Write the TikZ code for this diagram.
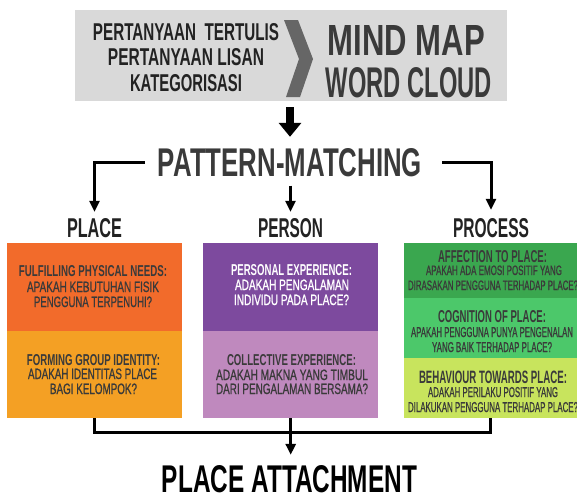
\documentclass[tikz,border=0pt]{standalone}
\usepackage{fontspec}
\setmainfont{Liberation Sans}
\newfontfamily\medfont{Liberation Sans}[FakeBold=1.2]
\usepackage{graphicx}
\usetikzlibrary{arrows.meta}
\definecolor{hdrbg}{HTML}{D9D9D9}
\definecolor{chev}{HTML}{666666}
\definecolor{ink}{HTML}{222222}
\definecolor{inkg}{HTML}{3A3A3A}
\definecolor{cA}{HTML}{F26B2B}
\definecolor{cB}{HTML}{F4A024}
\definecolor{cC}{HTML}{7D4A9E}
\definecolor{cD}{HTML}{BF89BE}
\definecolor{cE}{HTML}{3AA74F}
\definecolor{cF}{HTML}{4CC86A}
\definecolor{cG}{HTML}{C8E45D}
\newcommand{\fb}[3]{\resizebox{#1pt}{#2pt}{\bfseries #3}}
\newcommand{\fr}[3]{\resizebox{#1pt}{#2pt}{\medfont #3}}
\begin{document}
\begin{tikzpicture}[x=1pt,y=-1pt,
  txt/.style={inner sep=0pt,anchor=base},
  conn/.style={line width=3pt,draw=black},
  arr/.style={conn,-{Triangle[width=10pt,length=11pt]}},
  big/.style={line width=8pt,draw=black,-{Triangle[width=22pt,length=14pt]}},
  box/.style={draw=none,inner sep=0pt,anchor=north west}]
\useasboundingbox (0,0) rectangle (577,498);
\fill[white] (0,0) rectangle (577,498);

% header
\node[box,fill=hdrbg,minimum width=432pt,minimum height=91pt] (header) at (75,10) {};
\fill[chev] (284,20) -- (298,20) -- (313,59) -- (300,97) -- (286,97) -- (299,59) -- cycle;
\node[txt,text=ink] (h1) at (186,40) {\fb{186}{17}{PERTANYAAN\ \ TERTULIS}};
\node[txt,text=ink] (h2) at (186,65) {\fb{156}{17}{PERTANYAAN LISAN}};
\node[txt,text=ink] (h3) at (186,91) {\fb{112}{17}{KATEGORISASI}};
\node[txt,text=inkg] (h4) at (406.5,55) {\fb{157}{30}{MIND MAP}};
\node[txt,text=inkg] (h5) at (409,97) {\fb{166}{30}{WORD CLOUD}};

% titles
\node[txt,text=inkg] (pm) at (290,176) {\fb{264}{28}{PATTERN-MATCHING}};
\node[txt,text=ink] (place) at (94.5,237) {\fb{55}{19}{PLACE}};
\node[txt,text=ink] (person) at (290.5,237) {\fb{65}{19}{PERSON}};
\node[txt,text=ink] (process) at (491,237) {\fb{76}{19}{PROCESS}};
\node[txt,text=black] (pa) at (289.5,492) {\fb{255}{27}{PLACE ATTACHMENT}};

% boxes
\node[box,fill=cA,minimum width=175pt,minimum height=88pt] (b1) at (7,243) {};
\node[box,fill=cB,minimum width=175pt,minimum height=87pt] (b2) at (7,331) {};
\node[box,fill=cC,minimum width=175pt,minimum height=88pt] (b3) at (203,243) {};
\node[box,fill=cD,minimum width=175pt,minimum height=87pt] (b4) at (203,331) {};
\node[box,fill=cE,minimum width=173pt,minimum height=55pt] (b5) at (404,243) {};
\node[box,fill=cF,minimum width=173pt,minimum height=60pt] (b6) at (404,298) {};
\node[box,fill=cG,minimum width=173pt,minimum height=60pt] (b7) at (404,358) {};

% left column text
\node[txt,text=inkg] (t1) at (93,276) {\fb{148}{11}{FULFILLING PHYSICAL NEEDS:}};
\node[txt,text=inkg] (t2) at (93,292) {\fr{132}{10.5}{APAKAH KEBUTUHAN FISIK}};
\node[txt,text=inkg] (t3) at (93,307) {\fr{118}{10.5}{PENGGUNA TERPENUHI?}};
\node[txt,text=inkg] (t4) at (93.5,365) {\fb{133}{11}{FORMING GROUP IDENTITY:}};
\node[txt,text=inkg] (t5) at (92.5,379) {\fr{129}{10.5}{ADAKAH IDENTITAS PLACE}};
\node[txt,text=inkg] (t6) at (93.5,394) {\fr{87}{10.5}{BAGI KELOMPOK?}};

% middle column text
\node[txt,text=white] (t7) at (291.5,275) {\fb{121}{11}{PERSONAL EXPERIENCE:}};
\node[txt,text=white] (t8) at (292,290) {\fr{114}{10.5}{ADAKAH PENGALAMAN}};
\node[txt,text=white] (t9) at (291.5,305) {\fr{115}{10.5}{INDIVIDU PADA PLACE?}};
\node[txt,text=inkg] (t10) at (291.5,365) {\fb{129}{11}{COLLECTIVE EXPERIENCE:}};
\node[txt,text=inkg] (t11) at (292,380) {\fr{152}{10.5}{ADAKAH MAKNA YANG TIMBUL}};
\node[txt,text=inkg] (t12) at (292,394) {\fr{152}{10.5}{DARI PENGALAMAN BERSAMA?}};

% right column text
\node[txt,text=inkg] (t13) at (492.5,262) {\fb{109}{12}{AFFECTION TO PLACE:}};
\node[txt,text=inkg] (t14) at (494,275) {\fr{136}{9.5}{APAKAH ADA EMOSI POSITIF YANG}};
\node[txt,text=inkg] (t15) at (493,290) {\fr{170}{9.5}{DIRASAKAN PENGGUNA TERHADAP PLACE?}};
\node[txt,text=inkg] (t16) at (492,322) {\fb{108}{12}{COGNITION OF PLACE:}};
\node[txt,text=inkg] (t17) at (492,337) {\fr{162}{10}{APAKAH PENGGUNA PUNYA PENGENALAN}};
\node[txt,text=inkg] (t18) at (492,352) {\fr{120}{10}{YANG BAIK TERHADAP PLACE?}};
\node[txt,text=inkg] (t19) at (493,383) {\fb{148}{12.5}{BEHAVIOUR TOWARDS PLACE:}};
\node[txt,text=inkg] (t20) at (493,397) {\fr{130}{10}{ADAKAH PERILAKU POSITIF YANG}};
\node[txt,text=inkg] (t21) at (493,412) {\fr{170}{10}{DILAKUKAN PENGGUNA TERHADAP PLACE?}};

% connectors
\draw[big,shorten <=6pt,shorten >=11pt] (pm.north |- header.south) -- (pm.north);
\draw[arr,shorten >=6pt] ([xshift=-13pt]pm.west) -| (place.north);
\draw[arr,shorten <=9pt,shorten >=6pt] (person.north |- pm.south) -- (person.north);
\draw[arr,shorten >=8pt] ([xshift=20pt]pm.east) -| (process.north);
\draw[conn] (b2.south) -- ++(0,14) -| (b7.south);
\draw[arr,shorten >=10pt] (b4.south) -- (b4.south |- pa.north);
\end{tikzpicture}
\end{document}
